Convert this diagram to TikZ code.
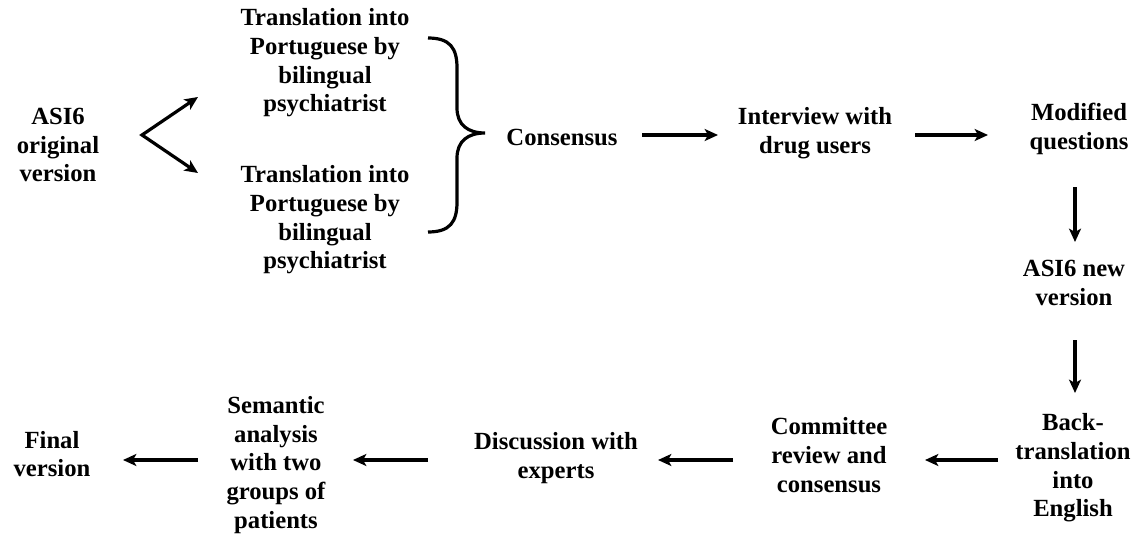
\documentclass[tikz,border=0pt]{standalone}
\usepackage{fontspec}
\setmainfont{Liberation Serif}
\usetikzlibrary{arrows.meta}
\begin{document}
\begin{tikzpicture}[x=0.75pt,y=-0.75pt,
  lbl/.style={align=center,font=\bfseries\fontsize{18.5}{21.5}\selectfont,inner sep=0pt},
  arr/.style={line width=2.4pt,-{Stealth[length=10pt,width=9pt,inset=2.5pt]}},
  varr/.style={line width=2.4pt,{Stealth[length=10pt,width=9pt,inset=2.5pt]}-{Stealth[length=10pt,width=9pt,inset=2.5pt]}},
  bracestyle/.style={line width=2.4pt}]
\useasboundingbox (0,0) rectangle (1141,535);
% nodes
\node[lbl] (orig) at (58,145) {ASI6\\original\\version};
\node[lbl] (t1) at (325,63) {Translation into\\Portuguese by\\bilingual\\psychiatrist};
\node[lbl] (t2) at (325,220) {Translation into\\Portuguese by\\bilingual\\psychiatrist};
\node[lbl] (cons) at (562,137) {Consensus};
\node[lbl] (interview) at (815,133) {Interview with\\drug users};
\node[lbl] (modified) at (1079,129) {Modified\\questions};
\node[lbl] (newv) at (1074,283) {ASI6 new\\version};
\node[lbl] (back) at (1073,468) {Back-\\translation\\into\\English};
\node[lbl] (committee) at (829,455) {Committee\\review and\\consensus};
\node[lbl] (discussion) at (556,458) {Discussion with\\experts};
\node[lbl] (semantic) at (276,465) {Semantic\\analysis\\with two\\groups of\\patients};
\node[lbl] (final) at (52,454) {Final\\version};
% V arrows
\coordinate (v) at (142,135);
\coordinate (vt) at (198,97);
\coordinate (vb) at (198,173);
\draw[varr] (vt) -- (v) -- (vb);
% brace
\coordinate (bt) at (428,38);
\coordinate (bb) at (428,232);
\coordinate (btip) at (485,133);
\draw[bracestyle] (bt) .. controls (450,38) and (457,48) .. (457,68)
  -- (457,108) .. controls (457,125) and (468,133) .. (btip)
  .. controls (468,133) and (457,141) .. (457,158)
  -- (457,202) .. controls (457,222) and (450,232) .. (bb);
% horizontal / vertical arrows
\coordinate (a1s) at (642,135); \coordinate (a1e) at (718,135);
\coordinate (a2s) at (915,135); \coordinate (a2e) at (988,135);
\coordinate (a3s) at (1075,187); \coordinate (a3e) at (1075,242);
\coordinate (a4s) at (1075,340); \coordinate (a4e) at (1075,393);
\coordinate (a5s) at (998,460); \coordinate (a5e) at (925,460);
\coordinate (a6s) at (733,460); \coordinate (a6e) at (658,460);
\coordinate (a7s) at (428,460); \coordinate (a7e) at (353,460);
\coordinate (a8s) at (198,460); \coordinate (a8e) at (123,460);
\draw[arr] (a1s) -- (a1e);
\draw[arr] (a2s) -- (a2e);
\draw[arr] (a3s) -- (a3e);
\draw[arr] (a4s) -- (a4e);
\draw[arr] (a5s) -- (a5e);
\draw[arr] (a6s) -- (a6e);
\draw[arr] (a7s) -- (a7e);
\draw[arr] (a8s) -- (a8e);
\end{tikzpicture}
\end{document}
